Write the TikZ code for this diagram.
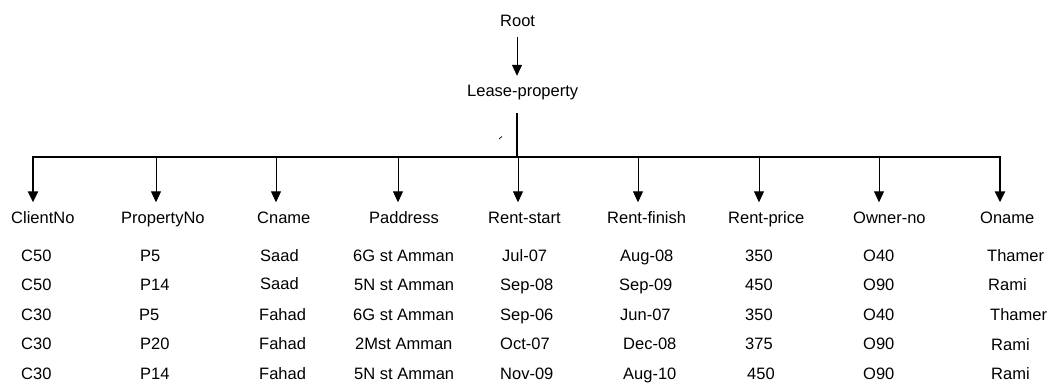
\documentclass[tikz,border=0pt]{standalone}
\usepackage{fontspec}
\setmainfont{Liberation Sans}
\usetikzlibrary{arrows.meta}
\begin{document}
\begin{tikzpicture}[x=1pt,y=-1pt,
  txt/.style={inner sep=0pt,anchor=base west,text height=11.5pt,text depth=3.5pt,
    font=\fontsize{16.5}{19}\selectfont},
  hdr/.style={txt},
  val/.style={txt},
  tip/.style={-{Triangle[length=11pt,width=10pt]}},
  thin/.style={line width=0.9pt,tip},
  heavy/.style={line width=2.8pt,tip},
  bus/.style={line width=1.8pt,line cap=rect}]
\useasboundingbox (0,0) rectangle (1049,385);

% top of the hierarchy
\node[txt,text depth=0pt] (root) at (500,27) {Root};
\node[txt] (lease) at (467,97) {Lease-property};
\coordinate (hub) at (517,157);
\draw[thin,shorten <=10pt,shorten >=9.5pt] (root.south -| hub) -- (hub |- lease.north);
\draw[line width=2.8pt,shorten <=12.5pt] (hub |- lease.south) -- (hub);
\draw[line width=0.7pt] (499,139) -- (502,136.5);

% column headers
\node[hdr] (h1) at (11,223)  {ClientNo};
\node[hdr] (h2) at (121,223) {PropertyNo};
\node[hdr] (h3) at (257,223) {Cname};
\node[hdr] (h4) at (369,223) {Paddress};
\node[hdr] (h5) at (488,223) {Rent-start};
\node[hdr] (h6) at (607,223) {Rent-finish};
\node[hdr] (h7) at (728,223) {Rent-price};
\node[hdr] (h8) at (853,223) {Owner-no};
\node[hdr] (h9) at (980,223) {Oname};

% bus and its drops
\coordinate (b1) at (33,157);
\coordinate (b2) at (156,157);
\coordinate (b3) at (276,157);
\coordinate (b4) at (398,157);
\coordinate (b5) at (518,157);
\coordinate (b6) at (638,157);
\coordinate (b7) at (759,157);
\coordinate (b8) at (879,157);
\coordinate (b9) at (1000,157);
\draw[bus] (b1) -- (b9);
\draw[heavy,shorten >=9pt] (b1) -- (b1 |- h1.north);
\draw[heavy,shorten >=9pt] (b9) -- (b9 |- h9.north);
\foreach \i in {2,...,8}
  \draw[thin,shorten >=9pt] (b\i) -- (b\i |- h\i.north);

% table rows
\node[val] (v11) at (21,261)  {C50};
\node[val] (v12) at (140,261) {P5};
\node[val] (v13) at (260,261) {Saad};
\node[val] (v14) at (353,261) {6G st Amman};
\node[val] (v15) at (502,261) {Jul-07};
\node[val] (v16) at (620,261) {Aug-08};
\node[val] (v17) at (745,261) {350};
\node[val] (v18) at (863,261) {O40};
\node[val] (v19) at (987,261) {Thamer};

\node[val] (v21) at (21,290.5)  {C50};
\node[val] (v22) at (140,290.5) {P14};
\node[val] (v23) at (260,289)   {Saad};
\node[val] (v24) at (354,290.5) {5N st Amman};
\node[val] (v25) at (500,290.5) {Sep-08};
\node[val] (v26) at (619,290.5) {Sep-09};
\node[val] (v27) at (745,290.5) {450};
\node[val] (v28) at (863,290.5) {O90};
\node[val] (v29) at (988,290.5) {Rami};

\node[val] (v31) at (21,320)  {C30};
\node[val] (v32) at (139,320) {P5};
\node[val] (v33) at (259,320) {Fahad};
\node[val] (v34) at (353,320) {6G st Amman};
\node[val] (v35) at (500,320) {Sep-06};
\node[val] (v36) at (620,320) {Jun-07};
\node[val] (v37) at (745,320) {350};
\node[val] (v38) at (863,320) {O40};
\node[val] (v39) at (990,320) {Thamer};

\node[val] (v41) at (21,349.5)  {C30};
\node[val] (v42) at (140,349.5) {P20};
\node[val] (v43) at (259,349.5) {Fahad};
\node[val] (v44) at (355,349.5) {2Mst Amman};
\node[val] (v45) at (500,349.5) {Oct-07};
\node[val] (v46) at (623,349.5) {Dec-08};
\node[val] (v47) at (745,349.5) {375};
\node[val] (v48) at (863,349.5) {O90};
\node[val] (v49) at (991,350.5) {Rami};

\node[val] (v51) at (21,379)  {C30};
\node[val] (v52) at (140,379) {P14};
\node[val] (v53) at (259,379) {Fahad};
\node[val] (v54) at (354,379) {5N st Amman};
\node[val] (v55) at (500,379) {Nov-09};
\node[val] (v56) at (623,379) {Aug-10};
\node[val] (v57) at (747,379) {450};
\node[val] (v58) at (863,379) {O90};
\node[val] (v59) at (991,379) {Rami};
\end{tikzpicture}
\end{document}
